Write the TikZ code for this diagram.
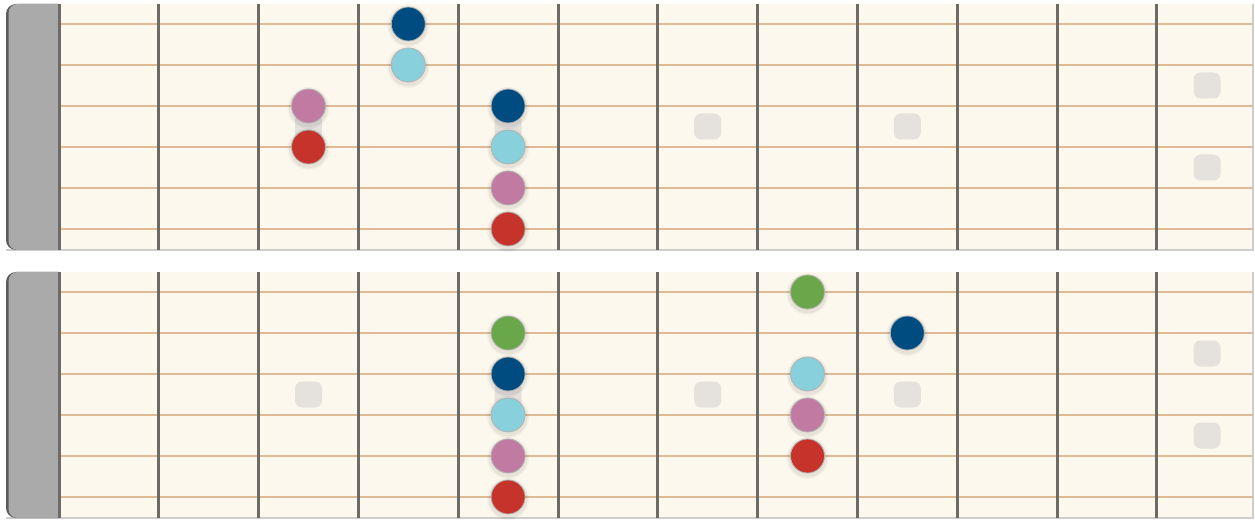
\documentclass[tikz,border=0pt]{standalone}
\usetikzlibrary{positioning}
\definecolor{boardcream}{RGB}{253,248,237}
\definecolor{nutgrey}{RGB}{170,170,170}
\definecolor{nutedge}{RGB}{90,90,90}
\definecolor{fretgrey}{RGB}{110,106,100}
\definecolor{stringtan}{RGB}{222,186,150}
\definecolor{edgegrey}{RGB}{205,205,205}
\definecolor{inlaygrey}{RGB}{229,226,221}
\definecolor{navy}{RGB}{0,75,128}
\definecolor{sky}{RGB}{136,208,219}
\definecolor{mauve}{RGB}{193,123,162}
\definecolor{brick}{RGB}{197,51,42}
\definecolor{leaf}{RGB}{106,167,74}

\begin{document}
\begin{tikzpicture}[x=1pt, y=-1pt,
  fretline/.style={draw=fretgrey, line width=3pt},
  stringline/.style={draw=stringtan, line width=2pt},
  inlay/.style={rectangle, rounded corners=7pt, fill=inlaygrey,
                minimum width=27pt, minimum height=26pt, inner sep=0pt},
  note/.style={circle, fill=#1, draw=black!30, line width=0.8pt,
               minimum size=34pt, inner sep=0pt},
]
\useasboundingbox (0,0) rectangle (1255,521);
\fill[white] (0,0) rectangle (1255,521);

\foreach \off/\bd in {0/upper, 268/lower} {
  % board and nut
  \fill[boardcream] (58,4+\off) rectangle (1253,250+\off);
  \draw[edgegrey, line width=1.5pt] (6,250+\off) -- (1253,250+\off) -- (1253,4+\off);
  \fill[nutedge] (58,4+\off) [rounded corners=10pt] -- (6,4+\off) -- (6,250+\off)
    [sharp corners] -- (58,250+\off) -- cycle;
  \fill[nutgrey] (58,4+\off) [rounded corners=9pt] -- (8.5,4+\off) -- (8.5,250+\off)
    [sharp corners] -- (58,250+\off) -- cycle;
  % strings
  \foreach \s in {0,...,5}
    \draw[stringline] (58,24+41*\s+\off) -- (1253,24+41*\s+\off);
  % frets
  \foreach \i in {0,...,11}
    \draw[fretline] (59+99.8*\i,4+\off) -- (59+99.8*\i,250+\off);
  % inlays
  \foreach \k in {3,5,7,9}
    \node[inlay] (\bd-inlay-\k) at (59+99.8*\k-49.9, 126.5+\off) {};
  \node[inlay] (\bd-inlay-12a) at (1207, 85.5+\off) {};
  \node[inlay] (\bd-inlay-12b) at (1207, 167.5+\off) {};
}

% notes: fret/string/colour
\foreach \k/\s/\c [count=\n] in {4/1/navy, 4/2/sky, 3/3/mauve, 3/4/brick,
                                 5/3/navy, 5/4/sky, 5/5/mauve, 5/6/brick} {
  \foreach \r/\o in {21/0.03, 19.5/0.05}
    \fill[black, opacity=\o] (59+99.8*\k-49.9, 26+41*\s-41) circle (\r);
  \node[note=\c] (upper-note-\n) at (59+99.8*\k-49.9, 24+41*\s-41) {};
}
\foreach \k/\s/\c [count=\n] in {8/1/leaf, 9/2/navy, 8/3/sky, 8/4/mauve, 8/5/brick,
                                 5/2/leaf, 5/3/navy, 5/4/sky, 5/5/mauve, 5/6/brick} {
  \foreach \r/\o in {21/0.03, 19.5/0.05}
    \fill[black, opacity=\o] (59+99.8*\k-49.9, 294+41*\s-41) circle (\r);
  \node[note=\c] (lower-note-\n) at (59+99.8*\k-49.9, 292+41*\s-41) {};
}
\end{tikzpicture}
\end{document}
